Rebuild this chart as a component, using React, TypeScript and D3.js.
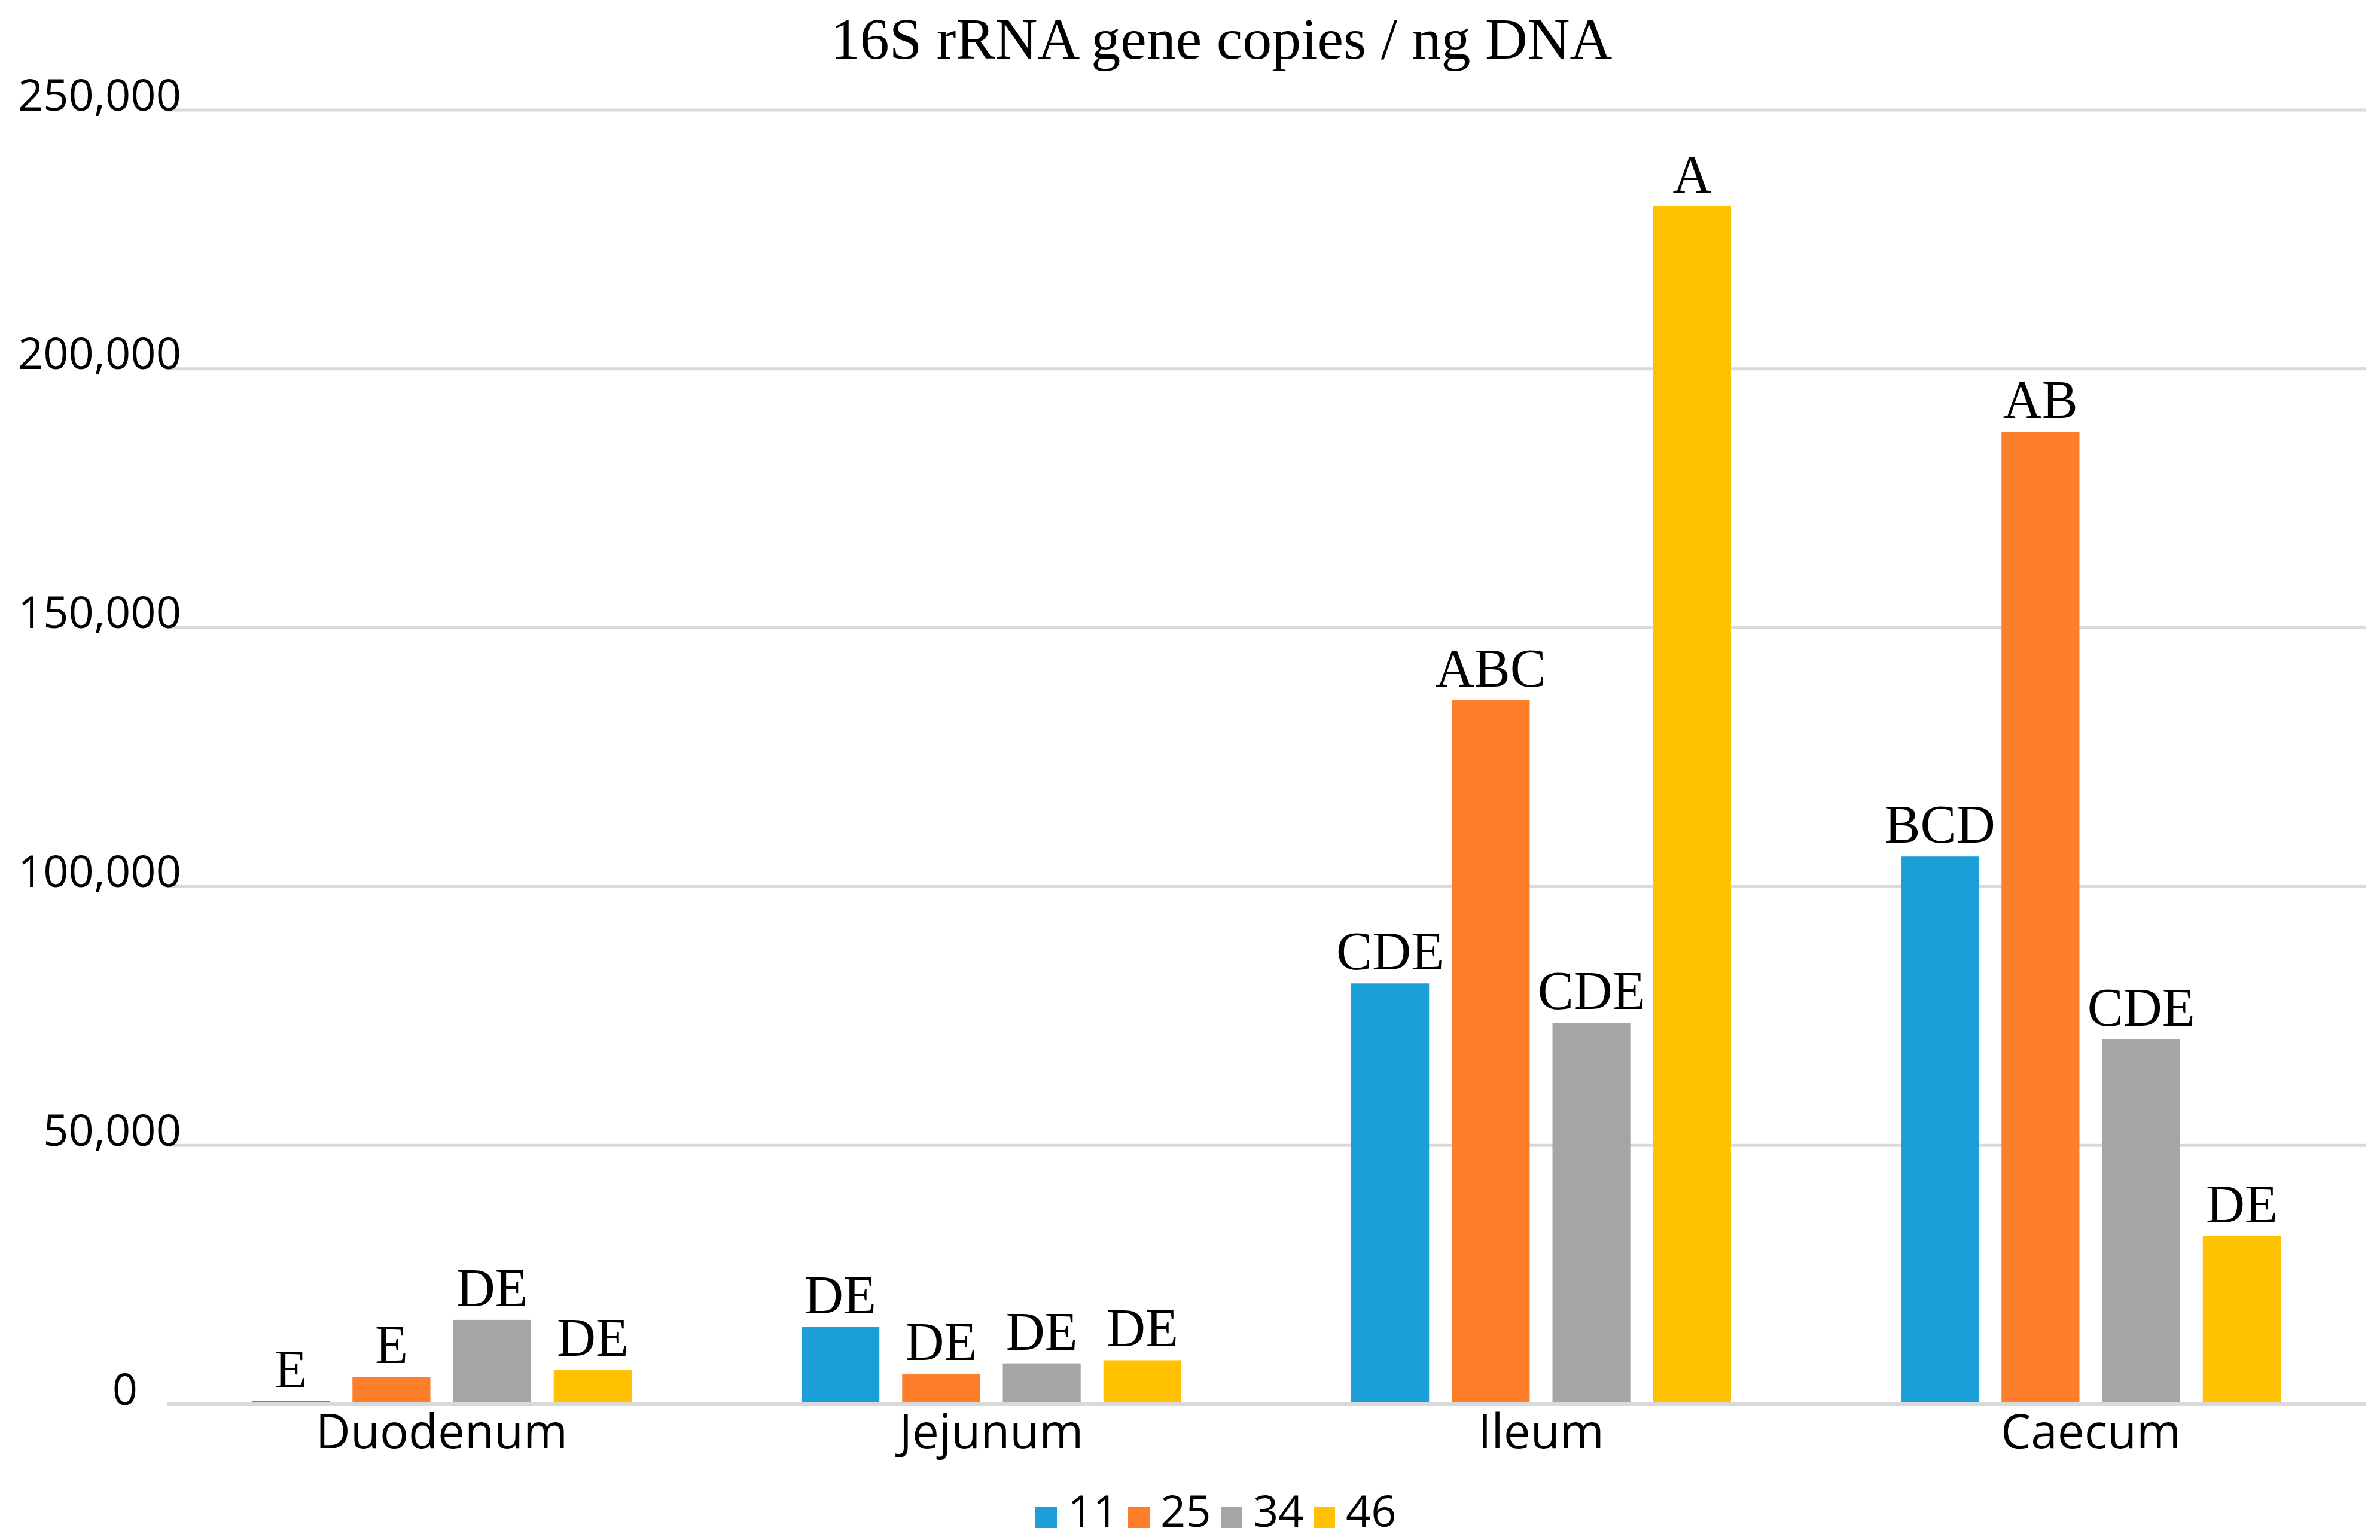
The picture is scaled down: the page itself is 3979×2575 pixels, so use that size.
import React, { useEffect, useRef } from 'react';
import * as d3 from 'd3';

const categories = ['Duodenum', 'Jejunum', 'Ileum', 'Caecum'];
const seriesNames = ['11', '25', '34', '46'];
const values11 = [600, 14900, 81300, 105800];
const values25 = [5300, 5900, 136000, 187800];
const values34 = [16300, 7900, 73700, 70500];
const values46 = [6700, 8500, 231400, 32500];
const letters11 = ['E', 'DE', 'CDE', 'BCD'];
const letters25 = ['E', 'DE', 'ABC', 'AB'];
const letters34 = ['DE', 'DE', 'CDE', 'CDE'];
const letters46 = ['DE', 'DE', 'A', 'DE'];
const yTicks = [0, 50000, 100000, 150000, 200000, 250000];
const colors = ['#1C9ED8', '#FE7F2B', '#A5A5A5', '#FFC100'];

const W = 3979;
const H = 2575;

const App: React.FC = () => {
    const svgRef = useRef<SVGSVGElement>(null);

    useEffect(() => {
        if (!svgRef.current) return;
        const svg = d3.select(svgRef.current);
        svg.selectAll('*').remove();

        const plot = { left: 279, right: 3955, top: 184, bottom: 2348 };
        const sans = '"Open Sans", "Noto Sans", sans-serif';
        const serif = '"Liberation Serif", "Times New Roman", serif';

        const allValues = [values11, values25, values34, values46];
        const allLetters = [letters11, letters25, letters34, letters46];

        const x0 = d3.scaleBand<string>()
            .domain(categories)
            .range([plot.left, plot.right])
            .padding(0);

        const outer = 142;
        const x1 = d3.scaleBand<string>()
            .domain(seriesNames)
            .range([outer, x0.bandwidth() - outer])
            .paddingInner(0.226);

        const y = d3.scaleLinear()
            .domain([0, 250000])
            .range([plot.bottom, plot.top]);

        svg.append('rect').attr('width', W).attr('height', H).attr('fill', '#fff');

        // title
        svg.append('text')
            .attr('x', 2042)
            .attr('y', 98)
            .attr('text-anchor', 'middle')
            .attr('font-family', serif)
            .attr('font-size', 98)
            .attr('fill', '#000')
            .text('16S rRNA gene copies / ng DNA');

        // gridlines
        svg.append('g')
            .selectAll('line')
            .data(yTicks.filter(t => t > 0))
            .enter()
            .append('line')
            .attr('x1', plot.left)
            .attr('x2', plot.right)
            .attr('y1', d => y(d))
            .attr('y2', d => y(d))
            .attr('stroke', '#D9D9D9')
            .attr('stroke-width', 5);

        // y axis labels
        const yAxis = svg.append('g')
            .attr('transform', `translate(${plot.left + 24}, 0)`)
            .call(d3.axisLeft(y).tickValues(yTicks).tickFormat(d => d3.format(',')(d as number)).tickSize(0).tickPadding(0));
        yAxis.select('.domain').remove();
        yAxis.selectAll('text')
            .attr('font-family', sans)
            .attr('font-size', 74)
            .attr('fill', '#000')
            .attr('dy', '0')
            .attr('dx', (d: any) => (d === 0 ? -73 : 0));

        // bars
        const groups = svg.append('g')
            .selectAll('g')
            .data(categories)
            .enter()
            .append('g')
            .attr('transform', d => `translate(${x0(d)}, 0)`);

        groups.selectAll('rect')
            .data((_, i) => seriesNames.map((s, j) => ({ s, j, v: allValues[j][i] })))
            .enter()
            .append('rect')
            .attr('x', d => x1(d.s) as number)
            .attr('y', d => y(d.v))
            .attr('width', x1.bandwidth())
            .attr('height', d => y(0) - y(d.v))
            .attr('fill', d => colors[d.j]);

        groups.selectAll('text')
            .data((_, i) => seriesNames.map((s, j) => ({ s, j, v: allValues[j][i], l: allLetters[j][i] })))
            .enter()
            .append('text')
            .attr('x', d => (x1(d.s) as number) + x1.bandwidth() / 2)
            .attr('y', d => y(d.v) - 23)
            .attr('text-anchor', 'middle')
            .attr('font-family', serif)
            .attr('font-size', 90)
            .attr('fill', '#000')
            .text(d => d.l);

        // x axis line
        svg.append('line')
            .attr('x1', plot.left)
            .attr('x2', plot.right)
            .attr('y1', y(0))
            .attr('y2', y(0))
            .attr('stroke', '#D9D9D9')
            .attr('stroke-width', 6);

        // category labels
        svg.append('g')
            .selectAll('text')
            .data(categories)
            .enter()
            .append('text')
            .attr('x', d => (x0(d) as number) + x0.bandwidth() / 2)
            .attr('y', 2422)
            .attr('text-anchor', 'middle')
            .attr('font-family', sans)
            .attr('font-size', 80)
            .attr('fill', '#000')
            .text(d => d);

        // legend
        const legend = svg.append('g')
            .selectAll('g')
            .data(seriesNames)
            .enter()
            .append('g')
            .attr('transform', (_, i) => `translate(${1731 + i * 155}, 0)`);

        legend.append('rect')
            .attr('x', 0)
            .attr('y', 2519)
            .attr('width', 36)
            .attr('height', 36)
            .attr('fill', (_, i) => colors[i]);

        legend.append('text')
            .attr('x', 54)
            .attr('y', 2553)
            .attr('font-family', sans)
            .attr('font-size', 74)
            .attr('fill', '#000')
            .text(d => d);
    }, []);

    return (
        <svg
            ref={svgRef}
            width={W}
            height={H}
            viewBox={`0 0 ${W} ${H}`}
            style={{ position: 'absolute', left: 0, top: 0, display: 'block' }}
        />
    );
};

export default App;
